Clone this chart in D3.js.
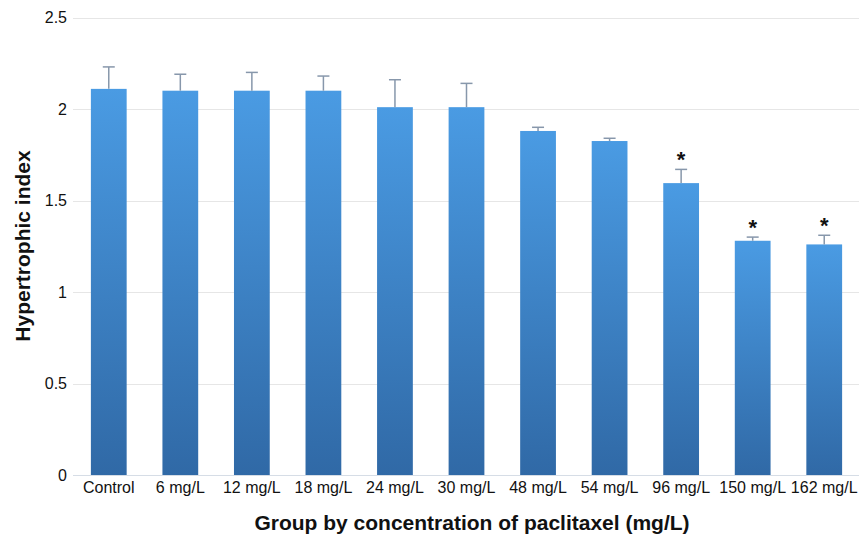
<!DOCTYPE html>
<html><head><meta charset="utf-8">
<script src="https://cdn.jsdelivr.net/npm/d3@7"></script>
<style>body{margin:0;background:#fff;} svg{display:block;font-family:"Liberation Sans",Arial,sans-serif;}</style>
</head><body>
<svg id="c" width="859" height="538"></svg>
<script>
const categories = ["Control","6 mg/L","12 mg/L","18 mg/L","24 mg/L","30 mg/L","48 mg/L","54 mg/L","96 mg/L","150 mg/L","162 mg/L"];
const values = [2.11,2.10,2.10,2.10,2.01,2.01,1.88,1.825,1.595,1.28,1.26];
const errors = [0.12,0.09,0.10,0.08,0.15,0.13,0.02,0.015,0.075,0.02,0.05];
const significant = [false,false,false,false,false,false,false,false,true,true,true];
const yTicks = [0,0.5,1,1.5,2,2.5];
const xTitle = "Group by concentration of paclitaxel (mg/L)";
const yTitle = "Hypertrophic index";

const svg = d3.select("#c");
const x = d3.scaleBand().domain(categories).range([73,860]).paddingInner(0.5).paddingOuter(0.25);
const y = d3.scaleLinear().domain([0,2.5]).range([475,17.5]);

const defs = svg.append("defs");
const g = defs.append("linearGradient").attr("id","bg").attr("x1",0).attr("y1",0).attr("x2",0).attr("y2",1);
g.append("stop").attr("offset","0%").attr("stop-color","#4a9be3");
g.append("stop").attr("offset","100%").attr("stop-color","#3069a6");

// grid
svg.append("g").selectAll("line").data(yTicks).join("line")
  .attr("x1",73).attr("x2",859).attr("y1",d=>Math.round(y(d))+0.5).attr("y2",d=>Math.round(y(d))+0.5)
  .attr("stroke",d=>d===0?"#d6dde6":"#e6e6e6").attr("stroke-width",1);

// y axis labels
const ya = svg.append("g").attr("transform","translate(67,0)")
  .call(d3.axisLeft(y).tickValues(yTicks).tickSize(0).tickPadding(0).tickFormat(d3.format("")));
ya.select(".domain").remove();
ya.selectAll("text").attr("font-size",16).attr("fill","#111").attr("font-family","Liberation Sans, Arial, sans-serif");

// x axis labels
const xa = svg.append("g").attr("transform","translate(0,482)")
  .call(d3.axisBottom(x).tickSize(0).tickPadding(0));
xa.select(".domain").remove();
xa.selectAll("text").attr("font-size",16).attr("fill","#111").attr("dy","0.71em").attr("font-family","Liberation Sans, Arial, sans-serif");

const data = categories.map((c,i)=>({c,v:values[i],e:errors[i],s:significant[i]}));

// bars
svg.append("g").selectAll("rect").data(data).join("rect")
  .attr("x",d=>x(d.c)).attr("width",x.bandwidth())
  .attr("y",d=>y(d.v)).attr("height",d=>y(0)-y(d.v))
  .attr("fill","url(#bg)");

// error bars
const eb = svg.append("g").attr("stroke","#8797ab").attr("stroke-width",1.5);
eb.selectAll("line.v").data(data).join("line").attr("class","v")
  .attr("x1",d=>x(d.c)+x.bandwidth()/2).attr("x2",d=>x(d.c)+x.bandwidth()/2)
  .attr("y1",d=>y(d.v)).attr("y2",d=>y(d.v+d.e));
eb.selectAll("line.h").data(data).join("line").attr("class","h")
  .attr("x1",d=>x(d.c)+x.bandwidth()/2-6).attr("x2",d=>x(d.c)+x.bandwidth()/2+6)
  .attr("y1",d=>y(d.v+d.e)).attr("y2",d=>y(d.v+d.e));

// stars
svg.append("g").selectAll("text").data(data.filter(d=>d.s)).join("text")
  .attr("x",d=>x(d.c)+x.bandwidth()/2).attr("y",d=>y(d.v+d.e)-14)
  .attr("text-anchor","middle").attr("font-size",22).attr("font-weight","bold").attr("fill","#111")
  .attr("dy","0.55em")
  .text("*");

// titles
svg.append("text").attr("x",472).attr("y",530).attr("text-anchor","middle")
  .attr("font-size",21).attr("font-weight","bold").attr("fill","#111").text(xTitle);
svg.append("text").attr("transform","translate(30,246) rotate(-90)").attr("text-anchor","middle")
  .attr("font-size",21).attr("font-weight","bold").attr("fill","#111").text(yTitle);
</script>
</body></html>
